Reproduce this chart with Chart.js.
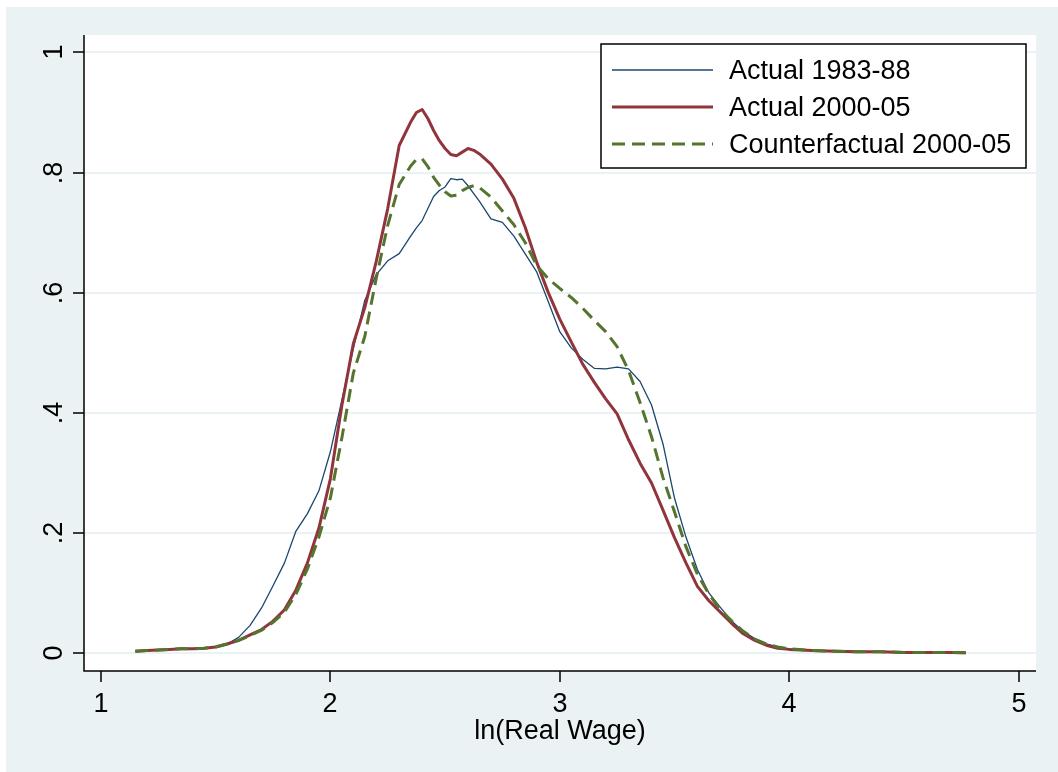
<!DOCTYPE html>
<html>
<head>
<meta charset="utf-8">
<title>ln(Real Wage) densities</title>
<script src="https://cdn.jsdelivr.net/npm/chart.js@4.4.1/dist/chart.umd.min.js"></script>
<style>
  html, body { margin: 0; padding: 0; background: #ffffff; }
  #wrap { width: 1058px; height: 772px; }
</style>
</head>
<body>
<div id="wrap"><canvas id="density-chart" width="1058" height="772"></canvas></div>
<script>
// x grid, ln(real wage)
const wage = [
  1.15, 1.2, 1.25, 1.3, 1.35, 1.4, 1.45, 1.5, 1.55, 1.6, 1.65, 1.7, 1.75, 1.8,
  1.85, 1.9, 1.95, 2.0, 2.05, 2.1, 2.15, 2.2, 2.25, 2.3, 2.35, 2.375, 2.4, 2.425,
  2.45, 2.475, 2.5, 2.525, 2.55, 2.575, 2.6, 2.625, 2.65, 2.7, 2.75, 2.8, 2.85,
  2.9, 2.95, 3.0, 3.05, 3.1, 3.15, 3.2, 3.25, 3.3, 3.35, 3.4, 3.45, 3.5, 3.55,
  3.6, 3.65, 3.7, 3.75, 3.8, 3.85, 3.9, 3.95, 4.0, 4.1, 4.2, 4.3, 4.4, 4.5, 4.6,
  4.7, 4.77
]

const actual8388 = [
  0.003, 0.004, 0.005, 0.006, 0.007, 0.007, 0.008, 0.010, 0.015, 0.026, 0.046, 0.075, 0.112, 0.150,
  0.203, 0.232, 0.270, 0.335, 0.421, 0.507, 0.587, 0.630, 0.653, 0.665, 0.694, 0.708, 0.720, 0.740,
  0.760, 0.770, 0.776, 0.790, 0.788, 0.789, 0.778, 0.765, 0.752, 0.723, 0.717, 0.694, 0.664,
  0.634, 0.585, 0.535, 0.508, 0.489, 0.474, 0.473, 0.476, 0.473, 0.452, 0.413, 0.348, 0.258, 0.193,
  0.139, 0.100, 0.076, 0.053, 0.036, 0.024, 0.015, 0.010, 0.007, 0.004, 0.003, 0.002, 0.002, 0.001, 0.001,
  0.001, 0.0005
]

const actual0005 = [
  0.003, 0.004, 0.005, 0.006, 0.007, 0.007, 0.008, 0.010, 0.015, 0.021, 0.030, 0.039, 0.053, 0.072,
  0.105, 0.150, 0.208, 0.290, 0.412, 0.515, 0.575, 0.652, 0.740, 0.845, 0.884, 0.900, 0.905, 0.890,
  0.870, 0.853, 0.840, 0.830, 0.828, 0.834, 0.840, 0.837, 0.831, 0.814, 0.789, 0.757, 0.708,
  0.650, 0.600, 0.556, 0.518, 0.481, 0.451, 0.423, 0.398, 0.355, 0.316, 0.283, 0.238, 0.192, 0.150,
  0.111, 0.087, 0.068, 0.049, 0.032, 0.021, 0.013, 0.008, 0.006, 0.004, 0.003, 0.002, 0.002, 0.001, 0.001,
  0.001, 0.0005
]

const counterfactual0005 = [
  0.003, 0.004, 0.005, 0.006, 0.007, 0.007, 0.008, 0.010, 0.015, 0.021, 0.029, 0.038, 0.051, 0.068,
  0.098, 0.140, 0.193, 0.258, 0.358, 0.466, 0.527, 0.624, 0.712, 0.780, 0.811, 0.822, 0.823, 0.810,
  0.792, 0.779, 0.768, 0.761, 0.762, 0.770, 0.775, 0.778, 0.775, 0.759, 0.736, 0.713, 0.683,
  0.645, 0.623, 0.607, 0.592, 0.574, 0.554, 0.535, 0.510, 0.470, 0.417, 0.360, 0.292, 0.235, 0.177,
  0.131, 0.098, 0.072, 0.053, 0.036, 0.023, 0.015, 0.010, 0.007, 0.004, 0.003, 0.002, 0.002, 0.001, 0.001,
  0.001, 0.0005
]

const seriesNames = ['Actual 1983-88', 'Actual 2000-05', 'Counterfactual 2000-05']
const xTicks = [1, 2, 3, 4, 5]
const yTicks = [0, 0.2, 0.4, 0.6, 0.8, 1]
const yTickLabels = ['0', '.2', '.4', '.6', '.8', '1']
const xTitle = 'ln(Real Wage)'

const NAVY = 'rgb(26,71,111)'
const MAROON = 'rgb(144,53,59)'
const FOREST = 'rgb(85,117,47)'
const BLUISH = 'rgb(234,242,243)'
const FONT = '27px "Liberation Sans", Arial, sans-serif'

function toPoints (ys) {
  return wage.map((x, i) => ({ x, y: ys[i] }))
}

// stata-like frame: background, grid, axes, ticks, legend
const stataFrame = {
  id: 'stataFrame',
  beforeDraw (chart) {
    const { ctx, chartArea } = chart
    const yScale = chart.scales.y
    ctx.save()
    ctx.fillStyle = '#ffffff'
    ctx.fillRect(0, 0, chart.width, chart.height)
    ctx.fillStyle = BLUISH
    ctx.fillRect(6, 7, chart.width - 6, chart.height - 7)
    ctx.fillStyle = '#ffffff'
    ctx.fillRect(chartArea.left, chartArea.top, chartArea.right - chartArea.left, chartArea.bottom - chartArea.top)

    ctx.strokeStyle = BLUISH
    ctx.lineWidth = 2
    for (const v of yTicks) {
      const py = Math.round(yScale.getPixelForValue(v))
      ctx.beginPath()
      ctx.moveTo(chartArea.left, py)
      ctx.lineTo(chartArea.right, py)
      ctx.stroke()
    }
    ctx.restore()
  },
  afterDatasetsDraw (chart) {
    const { ctx, chartArea } = chart
    const xScale = chart.scales.x
    const yScale = chart.scales.y
    ctx.save()
    ctx.strokeStyle = '#000000'
    ctx.lineWidth = 1.5

    // axis lines
    ctx.beginPath()
    ctx.moveTo(chartArea.left, chartArea.top)
    ctx.lineTo(chartArea.left, chartArea.bottom)
    ctx.lineTo(chartArea.right, chartArea.bottom)
    ctx.stroke()

    ctx.fillStyle = '#000000'
    ctx.font = FONT

    // y ticks and rotated labels
    yTicks.forEach((v, i) => {
      const py = Math.round(yScale.getPixelForValue(v))
      ctx.beginPath()
      ctx.moveTo(chartArea.left - 11, py)
      ctx.lineTo(chartArea.left, py)
      ctx.stroke()
      ctx.save()
      ctx.translate(chartArea.left - 22, py)
      ctx.rotate(-Math.PI / 2)
      ctx.textAlign = 'center'
      ctx.textBaseline = 'alphabetic'
      ctx.fillText(yTickLabels[i], 0, 0)
      ctx.restore()
    })

    // x ticks and labels
    ctx.textAlign = 'center'
    ctx.textBaseline = 'alphabetic'
    for (const v of xTicks) {
      const px = Math.round(xScale.getPixelForValue(v))
      ctx.beginPath()
      ctx.moveTo(px, chartArea.bottom)
      ctx.lineTo(px, chartArea.bottom + 11)
      ctx.stroke()
      ctx.fillText(String(v), px, chartArea.bottom + 41)
    }
    ctx.fillText(xTitle, (chartArea.left + chartArea.right) / 2, chartArea.bottom + 68)

    // legend box
    const box = { x: 601, y: 44, w: 425, h: 124 }
    ctx.fillStyle = '#ffffff'
    ctx.fillRect(box.x, box.y, box.w, box.h)
    ctx.strokeStyle = '#000000'
    ctx.lineWidth = 1.5
    ctx.strokeRect(box.x, box.y, box.w, box.h)

    const rows = [70, 107, 144]
    chart.data.datasets.forEach((ds, i) => {
      ctx.beginPath()
      ctx.strokeStyle = ds.borderColor
      ctx.lineWidth = ds.borderWidth
      ctx.setLineDash(ds.borderDash || [])
      ctx.moveTo(612, rows[i])
      ctx.lineTo(713, rows[i])
      ctx.stroke()
      ctx.setLineDash([])
      ctx.fillStyle = '#000000'
      ctx.textAlign = 'left'
      ctx.fillText(ds.label, 729, rows[i] + 9)
    })
    ctx.restore()
  }
}

const ctx = document.getElementById('density-chart').getContext('2d')
const chart = new Chart(ctx, {
  type: 'line',
  data: {
    datasets: [
      {
        label: seriesNames[0],
        data: toPoints(actual8388),
        borderColor: NAVY,
        borderWidth: 1.3,
        order: 3
      },
      {
        label: seriesNames[1],
        data: toPoints(actual0005),
        borderColor: MAROON,
        borderWidth: 3,
        order: 2
      },
      {
        label: seriesNames[2],
        data: toPoints(counterfactual0005),
        borderColor: FOREST,
        borderWidth: 3,
        borderDash: [13, 7],
        order: 1
      }
    ]
  },
  options: {
    responsive: false,
    animation: false,
    events: [],
    elements: {
      point: { radius: 0 },
      line: { tension: 0, fill: false, borderJoinStyle: 'round' }
    },
    layout: { padding: { left: 84, top: 35, right: 22, bottom: 101 } },
    scales: {
      x: { type: 'linear', min: 0.926, max: 5.076, display: false },
      y: { type: 'linear', min: -0.030, max: 1.029, display: false }
    },
    plugins: {
      legend: { display: false },
      tooltip: { enabled: false }
    }
  },
  plugins: [stataFrame]
})
</script>
</body>
</html>
